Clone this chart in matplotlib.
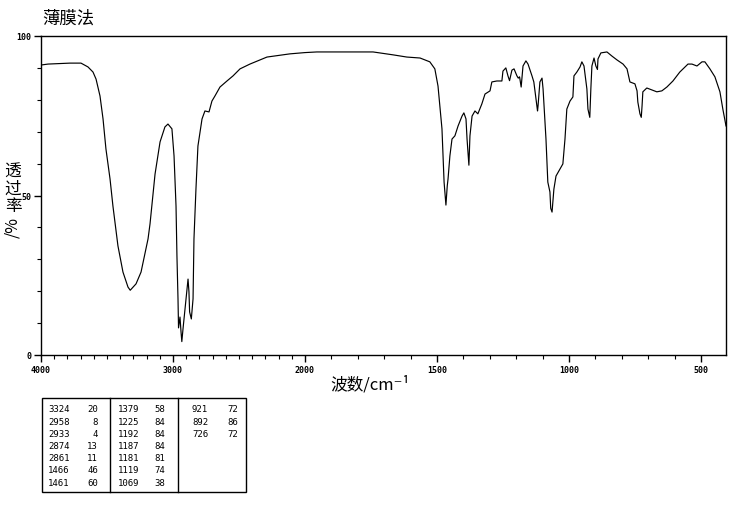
import numpy as np
import matplotlib
matplotlib.use("Agg")
import matplotlib.pyplot as plt
from matplotlib.ticker import FixedLocator, FixedFormatter, NullFormatter
from matplotlib.patches import Rectangle

plt.rcParams['font.family'] = ['Noto Sans CJK SC', 'DejaVu Sans']

wavenumber = [4000, 3947, 3780, 3697, 3644, 3606, 3583, 3553, 3530, 3508, 3477, 3455, 3417,
              3379, 3341, 3324, 3280, 3242, 3189, 3174, 3136, 3098, 3061, 3038, 3008, 2992,
              2977, 2970, 2962, 2958, 2947, 2939, 2933, 2924, 2901, 2886, 2879, 2874, 2861,
              2848, 2841, 2826, 2811, 2780, 2758, 2727, 2705, 2682, 2644, 2591, 2545, 2492,
              2417, 2288, 2114, 2000, 1955, 1830, 1742, 1667, 1614, 1564, 1527, 1508, 1496,
              1489, 1481, 1477, 1473, 1466, 1461, 1458, 1451, 1443, 1432, 1420, 1405, 1398,
              1390, 1386, 1379, 1375, 1367, 1356, 1345, 1330, 1318, 1299, 1292, 1273, 1254,
              1250, 1239, 1231, 1225, 1216, 1208, 1197, 1192, 1187, 1181, 1174, 1163, 1155,
              1140, 1133, 1121, 1119, 1117, 1110, 1102, 1098, 1087, 1080, 1072, 1069, 1064,
              1057, 1049, 1034, 1023, 1015, 1008, 996, 985, 981, 970, 958, 951, 943, 932,
              928, 921, 917, 913, 905, 898, 892, 890, 879, 856, 837, 818, 795, 780, 769,
              750, 742, 739, 731, 726, 723, 720, 705, 686, 667, 648, 629, 606, 580, 549,
              534, 515, 496, 485, 466, 447, 428, 417, 405]
transmittance = [90.9, 91.2, 91.5, 91.5, 90.3, 88.7, 86.5, 81.2, 74.0, 64.6, 55.2, 46.7, 34.2,
                 26.0, 21.3, 20.3, 22.3, 26.0, 36.4, 41.1, 56.7, 66.8, 71.5, 72.4, 70.9, 62.4,
                 46.7, 31.0, 17.6, 8.5, 11.9, 7.2, 4.2, 8.2, 17.6, 23.8, 19.8, 13.5, 11.3,
                 17.6, 36.4, 52.0, 65.5, 74.0, 76.5, 76.2, 79.6, 81.2, 84.0, 85.9, 87.5, 89.7,
                 91.2, 93.4, 94.4, 94.8, 95.0, 95.0, 95.0, 94.1, 93.4, 93.1, 91.9, 89.7, 84.3,
                 78.1, 70.9, 62.4, 54.2, 47.0, 53.0, 55.2, 62.4, 67.7, 68.7, 71.8, 74.9, 75.9,
                 74.0, 67.7, 59.5, 68.7, 74.9, 76.5, 75.6, 78.7, 81.8, 82.8, 85.6, 85.9, 85.9,
                 89.0, 90.0, 87.5, 86.0, 89.3, 89.7, 87.5, 86.8, 87.2, 84.0, 90.6, 92.2, 91.2,
                 87.5, 85.6, 77.7, 76.5, 78.1, 85.6, 86.8, 83.4, 67.7, 54.2, 51.1, 46.0, 44.8,
                 52.0, 56.1, 58.3, 59.9, 67.7, 77.1, 79.6, 80.9, 87.5, 88.7, 90.3, 91.9, 90.6,
                 83.4, 77.1, 74.5, 83.4, 90.6, 93.1, 90.6, 89.5, 92.8, 94.7, 95.0, 93.7, 92.5,
                 91.2, 89.7, 85.6, 85.0, 82.8, 79.3, 75.6, 74.5, 78.1, 82.5, 83.7, 83.1, 82.5,
                 82.8, 84.0, 85.9, 88.7, 91.2, 91.2, 90.6, 91.9, 91.9, 89.7, 87.2, 82.5, 77.1,
                 71.8]

peak_col1 = ["3324", "2958", "2933", "2874", "2861", "1466", "1461"]
val_col1 = ["20", "8", "4", "13", "11", "46", "60"]
peak_col2 = ["1379", "1225", "1192", "1187", "1181", "1119", "1069"]
val_col2 = ["58", "84", "84", "84", "81", "74", "38"]
peak_col3 = ["921", "892", "726"]
val_col3 = ["72", "86", "72"]

x_major = [4000, 3000, 2000, 1500, 1000, 500]
x_major_labels = ["4000", "3000", "2000", "1500", "1000", "500"]
y_major = [0, 50, 100]
y_major_labels = ["0", "50", "100"]

W, H = 737, 510
fig = plt.figure(figsize=(W / 100, H / 100), dpi=100)

def fx(px):
    return px / W

def fy(py):
    return 1 - py / H

ax = fig.add_axes([fx(41), fy(356), fx(726) - fx(41), fy(37) - fy(356)])


def fwd(x):
    x = np.asarray(x, dtype=float)
    return np.where(x < 2000, (x - 2000) / 500.0, (x - 2000) / 1000.0)


def inv(t):
    t = np.asarray(t, dtype=float)
    return np.where(t < 0, 2000 + 500.0 * t, 2000 + 1000.0 * t)


ax.set_xscale('function', functions=(fwd, inv))
ax.plot(wavenumber, transmittance, color='black', lw=0.85)
ax.set_xlim(4000, 405)
ax.set_ylim(0, 100)

ax.xaxis.set_major_locator(FixedLocator(x_major))
ax.xaxis.set_major_formatter(FixedFormatter(x_major_labels))
ax.xaxis.set_minor_locator(FixedLocator([v for v in range(500, 4000, 100) if v not in x_major]))
ax.xaxis.set_minor_formatter(NullFormatter())
ax.yaxis.set_major_locator(FixedLocator(y_major))
ax.yaxis.set_major_formatter(FixedFormatter(y_major_labels))
ax.yaxis.set_minor_locator(FixedLocator([10, 20, 30, 40, 60, 70, 80, 90]))
ax.yaxis.set_minor_formatter(NullFormatter())

ax.tick_params(axis='both', which='major', direction='out', length=5, width=1,
               labelsize=6, pad=2)
ax.tick_params(axis='both', which='minor', direction='out', length=3, width=0.8)
for lab in ax.get_xticklabels() + ax.get_yticklabels():
    lab.set_family('DejaVu Sans Mono')
    lab.set_fontweight('bold')
for s in ax.spines.values():
    s.set_linewidth(1.0)

# title
fig.text(fx(42), fy(19), "薄膜法", fontsize=12.5, ha='left', va='center',
         family=['Noto Sans CJK SC', 'DejaVu Sans'])

# x label
fig.text(fx(370), fy(385), "波数/cm⁻¹", fontsize=12, ha='center', va='center',
         family=['Noto Sans CJK SC', 'DejaVu Sans'])

# y label: stacked upright characters and rotated "/%"
fig.text(fx(13), fy(189), "透\n过\n率", fontsize=12, ha='center', va='center',
         linespacing=1.0, family=['Noto Sans CJK SC', 'DejaVu Sans'])
fig.text(fx(13), fy(228), "/%", fontsize=11.5, ha='center', va='center', rotation=90,
         family=['Noto Sans CJK SC', 'DejaVu Sans'])

# peak table
tab = fig.add_axes([0, 0, 1, 1], facecolor='none')
tab.set_xlim(0, W)
tab.set_ylim(H, 0)
tab.axis('off')
tab.add_patch(Rectangle((42, 399), 204, 94, fill=False, lw=1.0, ec='black'))
tab.plot([110, 110], [399, 493], color='black', lw=1.0)
tab.plot([178, 178], [399, 493], color='black', lw=1.0)

row_y0, row_dy = 410, 12.2
cols = [(peak_col1, val_col1, 48, 98), (peak_col2, val_col2, 118, 165), (peak_col3, val_col3, 192, 238)]
for peaks, vals, xl, xr in cols:
    for i, (p, v) in enumerate(zip(peaks, vals)):
        y = row_y0 + i * row_dy
        tab.text(xl, y, p, fontsize=6.5, ha='left', va='center', family='DejaVu Sans Mono')
        tab.text(xr, y, v, fontsize=6.5, ha='right', va='center', family='DejaVu Sans Mono')

fig.savefig("out.png", dpi=100)
